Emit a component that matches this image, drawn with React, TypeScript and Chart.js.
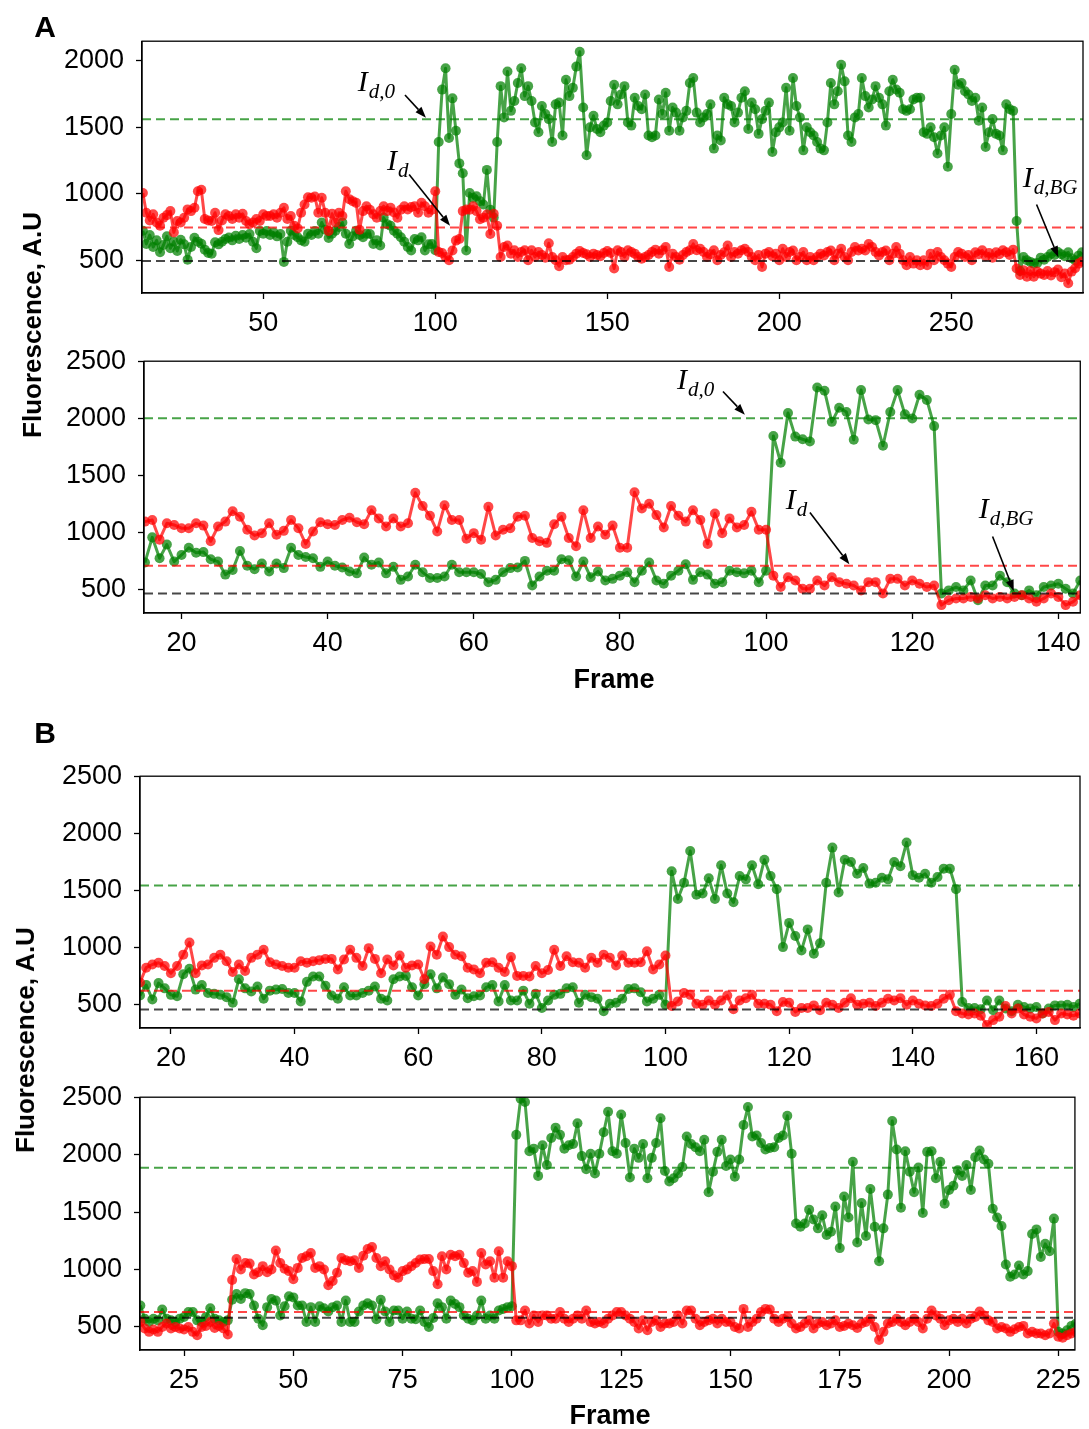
import React, { useEffect, useRef } from "react";
import { Chart, registerables } from "chart.js";

Chart.register(...registerables);

// ---------------- DATA ----------------
// Panel A (top): frames 15..288
const A1_START = 15;
const A1_GREEN = [
  722, 623, 690, 600, 650, 560, 615, 680, 590, 640, 570, 655, 620,
  505, 600, 670, 640, 625, 580, 555, 550, 635, 620, 640, 660, 672, 650, 685, 660, 690, 670, 698, 640, 590, 720, 700, 720, 690, 710, 680, 698, 488, 640, 722, 690, 673, 650, 640, 700, 690, 720, 700, 784, 730, 668, 700, 722, 750, 784, 700, 623, 680, 722, 690, 673, 700, 698, 623, 650, 611, 821, 772, 760, 722, 700, 673, 640, 600, 574, 660, 650, 673, 574, 620, 623, 575,
  1390, 1784, 1945, 1420, 1718, 1475, 1229, 1155, 574, 1006, 970, 982, 945, 920, 1180, 880, 821, 1390, 1810,
  1575, 1920, 1624, 1698, 1834, 1945, 1735, 1810, 1698, 1537, 1463, 1660, 1600, 1562, 1390, 1673, 1686, 1439, 1858, 1735, 1797, 1957, 2068, 1649, 1290, 1500, 1587, 1488, 1463, 1513, 1537, 1698, 1821, 1673, 1747, 1810, 1537, 1513, 1723, 1660, 1636, 1747, 1439, 1426, 1439, 1710, 1600, 1760, 1475, 1649, 1611, 1475, 1575, 1624, 1834, 1871, 1611, 1537, 1575, 1600, 1673, 1340, 1439, 1402, 1723, 1673, 1660, 1537, 1611, 1723, 1772, 1488, 1686, 1636, 1451, 1562, 1624, 1686, 1315,
  1463, 1500, 1537, 1797, 1475, 1871, 1660, 1575, 1327, 1500, 1463, 1439, 1390, 1340, 1327, 1537, 1834, 1673, 1772, 1970, 1846, 1439, 1390, 1575, 1600, 1871, 1735, 1649, 1710, 1810, 1723, 1673, 1513, 1772, 1858, 1785, 1760, 1636, 1624, 1636, 1710, 1723, 1723, 1463, 1451, 1500, 1426, 1303, 1439, 1500, 1204, 1600, 1933, 1821, 1834, 1772, 1747, 1698, 1723, 1550, 1649, 1352, 1463, 1562, 1451, 1439, 1327, 1673, 1636, 1624,
  796, 420, 525, 500, 488, 475, 480, 520, 505, 525, 550, 540, 562, 545, 530, 560, 515, 500, 535, 560,
];
const A1_RED = [
  1006, 858, 800, 846, 784, 760, 820, 840, 870, 710, 796, 784, 820, 883, 870, 895, 1020, 1030, 810, 800, 796, 858, 727, 800, 846, 833, 810, 846, 820, 850, 796, 772, 784, 810, 796, 846, 833, 833, 846, 820, 858, 895, 810, 833, 760, 740, 858, 920, 974, 970, 980, 858, 970, 858, 720, 850, 784, 858, 833, 1020, 960, 945, 932, 730, 870, 907, 880, 846, 820, 870, 907, 870, 895, 860, 820, 880, 907, 883, 900, 907, 858, 932, 907, 858, 880, 1020,
  562, 555, 525, 500, 574, 648, 660, 870, 882, 880, 907, 870, 809, 820, 845, 698, 850, 760, 525,
  600, 611, 550, 575, 525, 562, 575, 500, 575, 525, 562, 540, 520, 628, 525, 500, 455, 525, 500, 505, 525, 550, 570, 555, 545, 525, 550, 540, 530, 555, 570, 555, 438, 575, 562, 525, 575, 562, 550, 525, 512, 525, 540, 562, 580, 550, 575, 600, 450, 550, 525, 505, 540, 562, 575, 623, 575, 587, 562, 525, 545, 575, 500, 540, 560, 611, 525, 562, 550, 575, 587, 562, 525, 500, 540, 450, 550, 562, 530,
  550, 500, 587, 525, 562, 574, 500, 525, 562, 500, 525, 500, 525, 550, 537, 562, 574, 500, 550, 587, 525, 500, 562, 600, 574, 587, 574, 623, 600, 562, 537, 562, 574, 500, 550, 600, 550, 500, 463, 525, 475, 500, 463, 500, 463, 550, 500, 562, 525, 500, 475, 450, 525, 562, 550, 525, 540, 500, 560, 545, 575, 530, 555, 520, 560, 545, 575, 560, 540, 580,
  438, 389, 426, 377, 420, 377, 415, 400, 390, 420, 385, 410, 430, 372, 400, 327, 415, 440, 475, 490,
];
const A1_LEVELS = [1560, 747, 495]; // green, red, background
const A1_XTICKS = [50, 100, 150, 200, 250];
const A1_YTICKS = [500, 1000, 1500, 2000];

// Panel A (bottom): frames 15..143
const A2_START = 15;
const A2_GREEN = [
  738, 958, 775, 895, 746, 804, 867, 824, 829, 766, 746, 632, 672, 838, 709, 680, 729, 660, 729, 689, 867, 804, 786, 775, 700, 746, 709, 695, 660, 643, 781, 718, 738, 643, 700, 586, 615, 718, 652, 603, 603, 615, 718, 652,
  652, 652, 637, 566, 586, 652, 689, 695, 752, 537, 615, 666, 666, 766, 758, 615, 746, 609, 660, 580, 595, 623, 652, 566, 666, 738, 580, 552, 623, 666, 723, 586, 652, 632, 552, 566, 666, 652, 643, 666, 566, 666,
  1846, 1611, 2047, 1840, 1817, 1797, 2270, 2241, 1969, 2093, 2055, 1812, 2247, 1989, 1984, 1760, 2055, 2247, 2035, 1998, 2207, 2161, 1932,
  466, 494, 523, 494, 580, 408, 537, 537, 623, 566, 466, 451, 494, 451, 523, 537, 552, 509, 466, 580,
];
const A2_RED = [
  1096, 1110, 938, 1081, 1067, 1038, 1038, 1081, 1061, 924, 1053, 1096, 1187, 1139, 1024, 975, 995, 1081, 981, 1015, 1110, 1038, 901, 1010, 1090, 1073, 1067, 1110, 1130, 1090, 1073, 1196, 1124, 1053, 1124, 1053, 1081, 1348, 1233, 1147, 1010, 1239, 1110, 1110,
  947, 995, 938, 1225, 975, 1024, 1038, 1139, 1147, 952, 924, 910, 1073, 1139, 952, 881, 1196, 952, 1053, 981, 1061, 867, 867, 1353, 1210, 1253, 1153, 1044, 1233, 1147, 1096, 1196, 1110, 901, 1167, 995, 1124, 1044, 1067, 1182, 1024, 1024,
  623, 523, 609, 580, 509, 509, 580, 537, 609, 566, 552, 537, 494, 566, 566, 466, 595, 595, 537, 580, 552, 523, 537,
  365, 408, 423, 423, 437, 423, 451, 423, 437, 423, 437, 451, 423, 394, 423, 466, 437, 365, 394, 451,
];
const A2_LEVELS = [2000, 709, 466];
const A2_XTICKS = [20, 40, 60, 80, 100, 120, 140];
const A2_YTICKS = [500, 1000, 1500, 2000, 2500];

// Panel B (top): frames 15..167
const B1_START = 15;
const B1_GREEN = [
  580, 672, 546, 689, 643, 586, 574, 766, 815, 632, 672, 603, 595, 586, 566, 517, 723, 643, 615, 660, 552, 623, 632, 637, 603, 603, 529, 700, 746, 746, 666, 580, 552, 652, 580, 580, 603, 623, 660, 552, 537, 723, 746, 752, 652, 580, 680, 766, 643, 738, 680,
  586, 632, 557, 574, 580, 652, 672, 529, 672, 537, 537, 623, 509, 595, 471, 537, 586, 595, 643, 652, 517, 586, 566, 552, 443, 509, 517, 552, 637, 643, 609, 529, 552, 586, 500,
  1668, 1425, 1568, 1846, 1462, 1474, 1606, 1425, 1720, 1474, 1396, 1626, 1597, 1720, 1554, 1769,
  1626, 1511, 1004, 1216, 1101, 975, 1159, 947, 1038, 1568, 1875, 1482, 1769, 1749, 1646, 1697, 1560, 1568, 1611, 1597, 1749, 1712, 1920, 1634, 1611, 1646, 1568, 1617, 1691, 1691, 1511,
  523, 471, 471, 460, 537, 451, 537, 466, 443, 500, 480, 466, 480, 423, 466, 494, 494, 500, 480, 509,
];
const B1_RED = [
  695, 824, 852, 867, 838, 775, 838, 938, 1044, 775, 844, 852, 910, 938, 881, 786, 852, 795, 910, 938, 981, 872, 852, 838, 824, 824, 881, 867, 881, 890, 901, 901, 809, 895, 981, 910, 838, 995, 901, 775, 895, 844, 930, 824, 844, 852, 723, 1010, 938, 1096, 1004,
  938, 924, 824, 809, 775, 867, 872, 824, 786, 918, 752, 752, 746, 838, 775, 804, 981, 838, 924, 872, 867, 824, 910, 867, 938, 910, 844, 930, 867, 867, 872, 967, 809, 852, 930,
  489, 529, 603, 586, 509, 500, 537, 500, 537, 580, 460, 537, 557, 586, 509, 509,
  500, 443, 523, 517, 437, 471, 471, 494, 451, 517, 500, 471, 517, 557, 500, 509, 517, 489, 517, 552, 537, 557, 500, 537, 509, 494, 489, 509, 552, 586, 443,
  423, 414, 423, 403, 322, 365, 394, 489, 423, 466, 414, 394, 380, 423, 437, 365, 423, 414, 403, 423,
];
const B1_LEVELS = [1543, 623, 457];
const B1_XTICKS = [20, 40, 60, 80, 100, 120, 140, 160];
const B1_YTICKS = [500, 1000, 1500, 2000, 2500];

// Panel B (bottom): frames 15..229
const B2_START = 15;
const B2_GREEN = [
  686, 571, 543, 571, 557, 652, 571, 557, 543, 571, 586, 629, 629, 557, 543, 586, 663, 571, 557, 543, 557,
  737, 786, 743, 794, 786, 686, 571, 514, 672, 743, 729, 600, 680, 766, 757, 686, 686, 543, 672, 543, 680, 663, 634, 672, 686, 543, 729, 543, 543, 634, 686, 706, 686, 566, 737, 634, 543, 643, 643, 571, 634, 571, 566, 643, 543, 500, 577, 706, 672, 571, 729, 700, 672,
  600, 571, 557, 600, 729, 571, 600, 571, 643, 657, 672, 680,
  2172, 2487, 2458, 2030, 2052, 1815, 2081, 1909, 2144, 2235, 2172, 2052, 2081, 2092, 2273, 1987, 1872, 2007, 1835, 2007, 2195, 2373, 2030, 2007, 2350, 2101, 1801, 2052, 1972, 2092, 1795, 1972, 2101, 2316, 1858, 1766, 1795, 1835, 1892, 2158, 2092, 2064, 2030, 2130, 1672, 1852, 2024, 2130, 1901, 1958, 1807, 1958, 2258, 2415, 2158, 2167, 2101, 2044,
  2058, 2064, 2144, 2167, 2338, 2007, 1401, 1372, 1401, 1521, 1435, 1358, 1472, 1301, 1329, 1549, 1186, 1635, 1452, 1938, 1235, 1578, 1292, 1701, 1372, 1072, 1358, 1652, 2293, 2044, 1538, 2030, 1852, 1672, 1887, 1492, 2024, 2030, 1795, 1938, 1572, 1692, 1729, 1864, 1815, 1909, 1692, 1978, 2035, 1958, 1921, 1529, 1452, 1378, 1043, 937, 957, 1035, 957, 986, 1309, 1349, 1109, 1223, 1158, 1443, 457, 443, 470, 509, 529,
];
const B2_RED = [
  543, 486, 457, 477, 457, 500, 529, 486, 500, 486, 477, 500, 457, 428, 500, 509, 543, 491, 509, 486, 434,
  909, 1092, 1000, 1057, 1052, 957, 977, 1029, 977, 1000, 1166, 1057, 1006, 986, 915, 1014, 1100, 1115, 1143, 1014, 1029, 1000, 863, 900, 972, 1100, 1080, 1072, 1080, 1014, 1120, 1178, 1195, 1100, 1029, 1072, 1000, 949, 929, 986, 1000, 1029, 1057, 1086, 1092, 1092, 986, 872, 1115, 1000, 1129, 1115, 1129,
  1057, 972, 986, 892, 1143, 1043, 1072, 929, 1158, 929, 1072, 1029,
  557, 557, 643, 529, 600, 543, 600, 600, 571, 571, 629, 571, 543, 571, 600, 571, 643, 543, 529, 543, 529, 571, 600, 629, 629, 600, 571, 543, 486, 557, 471, 543, 557, 500, 529, 529, 543, 600, 529, 643, 643, 571, 514, 543, 557, 571, 529, 571, 543, 543, 500, 486, 657, 500, 543, 571, 629, 657,
  652, 571, 543, 571, 586, 529, 486, 500, 529, 557, 486, 529, 543, 514, 529, 557, 500, 509, 529, 514, 491, 529, 543, 571, 500, 386, 457, 529, 543, 571, 543, 514, 543, 571, 543, 486, 571, 643, 600, 571, 514, 557, 571, 543, 571, 529, 571, 586, 634, 600, 557, 543, 486, 500, 486, 457, 480, 500, 509, 443, 457, 443, 443, 428, 443, 529, 414, 406, 428, 443, 457,
];
const B2_LEVELS = [1885, 629, 580];
const B2_XTICKS = [25, 50, 75, 100, 125, 150, 175, 200, 225];
const B2_YTICKS = [500, 1000, 1500, 2000, 2500];

// Annotations (data coordinates): label anchor and arrow tail/head
const A1_NOTES = [
  { sub: "d,0", tx: 77.5, ty: 1773, ax0: 91.2, ay0: 1743, ax1: 97.3, ay1: 1573 },
  { sub: "d", tx: 86, ty: 1181, ax0: 92.4, ay0: 1146, ax1: 104.3, ay1: 759 },
  { sub: "d,BG", tx: 270.8, ty: 1055, ax0: 274.8, ay0: 920, ax1: 281.1, ay1: 524 },
];
const A2_NOTES = [
  { sub: "d,0", tx: 87.8, ty: 2255, ax0: 94.1, ay0: 2235, ax1: 97.1, ay1: 2032 },
  { sub: "d", tx: 102.7, ty: 1207, ax0: 106, ay0: 1175, ax1: 111.4, ay1: 723 },
  { sub: "d,BG", tx: 129.1, ty: 1130, ax0: 131, ay0: 966, ax1: 133.9, ay1: 488 },
];

// ---------------- LAYOUT / STYLE ----------------
const W = 1089;
const PAD_TOP = 24;
const X_AXIS_H = 54;
const SANS = "'Liberation Sans', Arial, Helvetica, sans-serif";
const SERIF = "'Liberation Serif', 'Times New Roman', serif";
const TICK_FONT = { family: SANS, size: 27 };
const GREEN = "rgba(0,128,0,0.72)";
const RED = "rgba(255,0,0,0.72)";
const GREY = "rgba(0,0,0,0.72)";

const PANELS = [
  { id: "A1", L: 142, T: 37, R: 1083, B: 293, xMin: 14.75, xMax: 288.3, yMin: 254, yMax: 2148, start: A1_START, green: A1_GREEN, red: A1_RED, levels: A1_LEVELS, xTicks: A1_XTICKS, yTicks: A1_YTICKS, notes: A1_NOTES },
  { id: "A2", L: 144, T: 357, R: 1085, B: 613, xMin: 14.87, xMax: 143.0, yMin: 296, yMax: 2500, start: A2_START, green: A2_GREEN, red: A2_RED, levels: A2_LEVELS, xTicks: A2_XTICKS, yTicks: A2_YTICKS, notes: A2_NOTES },
  { id: "B1", L: 140, T: 772, R: 1080, B: 1028, xMin: 15.0, xMax: 167.05, yMin: 296, yMax: 2500, start: B1_START, green: B1_GREEN, red: B1_RED, levels: B1_LEVELS, xTicks: B1_XTICKS, yTicks: B1_YTICKS, notes: [] },
  { id: "B2", L: 140, T: 1093, R: 1080, B: 1350, xMin: 14.92, xMax: 228.8, yMin: 299, yMax: 2500, start: B2_START, green: B2_GREEN, red: B2_RED, levels: B2_LEVELS, xTicks: B2_XTICKS, yTicks: B2_YTICKS, notes: [] },
];

const framePlugin = {
  id: "frame",
  afterDraw(chart: any) {
    const { ctx, chartArea: a } = chart;
    ctx.save();
    ctx.strokeStyle = "#000";
    ctx.lineWidth = 1.3;
    ctx.strokeRect(a.left, a.top, a.right - a.left, a.bottom - a.top);
    ctx.restore();
  },
};

function notesPlugin(notes: any[]) {
  return {
    id: "notes",
    afterDatasetsDraw(chart: any) {
      const { ctx } = chart;
      const xs = chart.scales.x;
      const ys = chart.scales.y;
      ctx.save();
      ctx.fillStyle = "#000";
      ctx.strokeStyle = "#000";
      for (const n of notes) {
        const tx = xs.getPixelForValue(n.tx);
        const ty = ys.getPixelForValue(n.ty);
        ctx.textAlign = "left";
        ctx.textBaseline = "alphabetic";
        ctx.font = `italic 30px ${SERIF}`;
        ctx.fillText("I", tx, ty);
        const w = ctx.measureText("I").width;
        ctx.font = `italic 21px ${SERIF}`;
        ctx.fillText(n.sub, tx + w + 1, ty + 7);
        const x0 = xs.getPixelForValue(n.ax0);
        const y0 = ys.getPixelForValue(n.ay0);
        const x1 = xs.getPixelForValue(n.ax1);
        const y1 = ys.getPixelForValue(n.ay1);
        const ang = Math.atan2(y1 - y0, x1 - x0);
        const head = 11;
        const hw = 4;
        const bx = x1 - head * Math.cos(ang);
        const by = y1 - head * Math.sin(ang);
        ctx.lineWidth = 1.6;
        ctx.beginPath();
        ctx.moveTo(x0, y0);
        ctx.lineTo(bx, by);
        ctx.stroke();
        ctx.beginPath();
        ctx.moveTo(x1, y1);
        ctx.lineTo(bx + hw * Math.sin(ang), by - hw * Math.cos(ang));
        ctx.lineTo(bx - hw * Math.sin(ang), by + hw * Math.cos(ang));
        ctx.closePath();
        ctx.fill();
      }
      ctx.restore();
    },
  };
}

function buildConfig(p: any): any {
  const pts = (start: number, vals: number[]) => vals.map((v, i) => ({ x: start + i, y: v }));
  const hl = (lv: number) => [
    { x: p.xMin, y: lv },
    { x: p.xMax, y: lv },
  ];
  const dashed = (lv: number, color: string) => ({
    data: hl(lv),
    borderColor: color,
    borderWidth: 2,
    borderDash: [9, 5],
    pointRadius: 0,
    order: 0,
  });
  const series = (vals: number[], color: string, order: number) => ({
    data: pts(p.start, vals),
    borderColor: color,
    backgroundColor: color,
    borderWidth: 3,
    borderJoinStyle: "round",
    pointRadius: 5,
    pointBackgroundColor: color,
    pointBorderColor: color,
    pointBorderWidth: 0,
    order,
  });
  const grid = { display: true, drawOnChartArea: false, drawTicks: true, tickLength: 6, tickWidth: 1.3, tickColor: "#000" };
  const border = { display: true, color: "#000", width: 1.3 };
  return {
    type: "line",
    data: {
      datasets: [
        dashed(p.levels[0], GREEN),
        dashed(p.levels[1], RED),
        dashed(p.levels[2], GREY),
        series(p.red, RED, 1),
        series(p.green, GREEN, 2),
      ],
    },
    options: {
      animation: false,
      responsive: false,
      maintainAspectRatio: false,
      devicePixelRatio: 1,
      events: [],
      layout: { padding: { left: 0, top: PAD_TOP, right: W - p.R, bottom: 0 } },
      plugins: { legend: { display: false }, tooltip: { enabled: false }, title: { display: false } },
      elements: { line: { tension: 0, fill: false } },
      scales: {
        x: {
          type: "linear",
          min: p.xMin,
          max: p.xMax,
          afterFit: (s: any) => {
            s.height = X_AXIS_H;
          },
          afterBuildTicks: (s: any) => {
            s.ticks = p.xTicks.map((v: number) => ({ value: v }));
          },
          ticks: { font: TICK_FONT, color: "#000", padding: 8, autoSkip: false, maxRotation: 0, minRotation: 0, callback: (v: any) => String(v) },
          grid,
          border,
        },
        y: {
          type: "linear",
          min: p.yMin,
          max: p.yMax,
          afterFit: (s: any) => {
            s.width = p.L;
          },
          afterBuildTicks: (s: any) => {
            s.ticks = p.yTicks.map((v: number) => ({ value: v }));
          },
          ticks: { font: TICK_FONT, color: "#000", padding: 12, autoSkip: false, callback: (v: any) => String(v) },
          grid,
          border,
        },
      },
    },
    plugins: [framePlugin, notesPlugin(p.notes)],
  };
}

function Panel({ p }: { p: any }) {
  const ref = useRef<HTMLCanvasElement | null>(null);
  const h = PAD_TOP + (p.B - p.T) + X_AXIS_H;
  useEffect(() => {
    if (!ref.current) return;
    const chart = new Chart(ref.current, buildConfig(p));
    return () => chart.destroy();
  }, [p]);
  return (
    <canvas
      ref={ref}
      width={W}
      height={h}
      style={{ position: "absolute", left: 0, top: p.T - PAD_TOP, width: W, height: h, display: "block" }}
    />
  );
}

const labelStyle = (x: number, y: number, size: number, rotate = false): React.CSSProperties => ({
  position: "absolute",
  left: x,
  top: y,
  transform: `translate(-50%, -50%)${rotate ? " rotate(-90deg)" : ""}`,
  font: `bold ${size}px ${SANS}`,
  color: "#000",
  whiteSpace: "nowrap",
  lineHeight: 1,
});

export default function App() {
  return (
    <div style={{ position: "absolute", left: 0, top: 0, width: W, height: 1429, background: "#fff", overflow: "hidden" }}>
      {PANELS.map((p) => (
        <Panel key={p.id} p={p} />
      ))}
      <div style={labelStyle(45, 27, 30)}>A</div>
      <div style={labelStyle(45, 733, 30)}>B</div>
      <div style={labelStyle(32, 325, 26, true)}>Fluorescence, A.U</div>
      <div style={labelStyle(25, 1040, 26, true)}>Fluorescence, A.U</div>
      <div style={labelStyle(614, 679, 27)}>Frame</div>
      <div style={labelStyle(610, 1415, 27)}>Frame</div>
    </div>
  );
}
